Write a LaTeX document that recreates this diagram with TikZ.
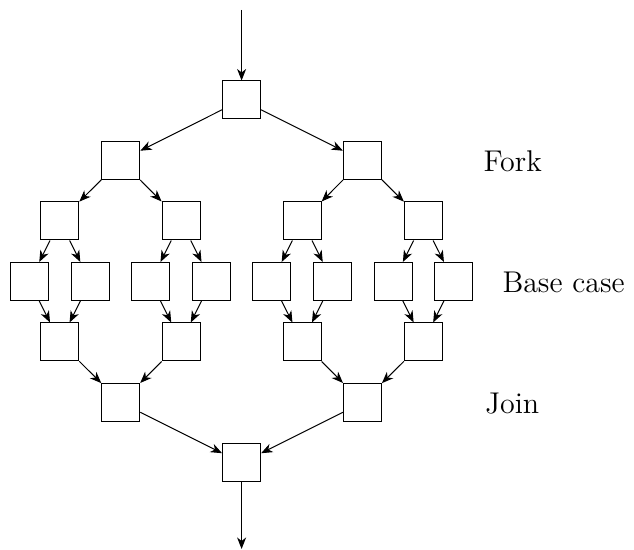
\documentclass[tikz,border=0pt]{standalone}
\usetikzlibrary{arrows.meta}
\begin{document}
\begin{tikzpicture}[x=0.4pt,y=-0.4pt,
  box/.style={draw, rectangle, minimum size=15.2pt, inner sep=0pt},
  arr/.style={-{Stealth[length=4.6pt,width=3.6pt,inset=1.4pt]}},
  lbl/.style={font=\fontsize{12}{14}\selectfont, inner sep=0pt, anchor=base west}]
\useasboundingbox (0,0) rectangle (634,550);
% rows
\node[box] (r0) at (241.6,100) {};
\foreach \i/\x in {1/120.8,2/362.4} {
  \node[box] (a\i) at (\x,160.5) {};
  \node[box] (e\i) at (\x,402.5) {};
}
\foreach \i/\x in {1/59.8,2/181.0,3/302.2,4/423.4} {
  \node[box] (b\i) at (\x,221) {};
  \node[box] (d\i) at (\x,342) {};
}
\foreach \i in {1,...,8} {
  \node[box] (c\i) at ({29.5+60.6*(\i-1)},281.5) {};
}
\node[box] (f) at (241.6,463) {};
\coordinate (in) at (241.6,10);
\coordinate (out) at (241.6,549);
% connectors
\draw[arr] (in) -- (r0);
\draw[arr] (r0) -- (a1);
\draw[arr] (r0) -- (a2);
\draw[arr] (a1) -- (b1);
\draw[arr] (a1) -- (b2);
\draw[arr] (a2) -- (b3);
\draw[arr] (a2) -- (b4);
\foreach \i/\j/\k in {1/1/2,2/3/4,3/5/6,4/7/8} {
  \draw[arr] (b\i) -- (c\j);
  \draw[arr] (b\i) -- (c\k);
  \draw[arr] (c\j) -- (d\i);
  \draw[arr] (c\k) -- (d\i);
}
\draw[arr] (d1) -- (e1);
\draw[arr] (d2) -- (e1);
\draw[arr] (d3) -- (e2);
\draw[arr] (d4) -- (e2);
\draw[arr] (e1) -- (f);
\draw[arr] (e2) -- (f);
\draw[arr] (f) -- (out);
% labels
\node[lbl] (fork) at (483,172) {Fork};
\node[lbl] (base) at (502,292.5) {Base case};
\node[lbl] (join) at (484.5,413.5) {Join};
\end{tikzpicture}
\end{document}
